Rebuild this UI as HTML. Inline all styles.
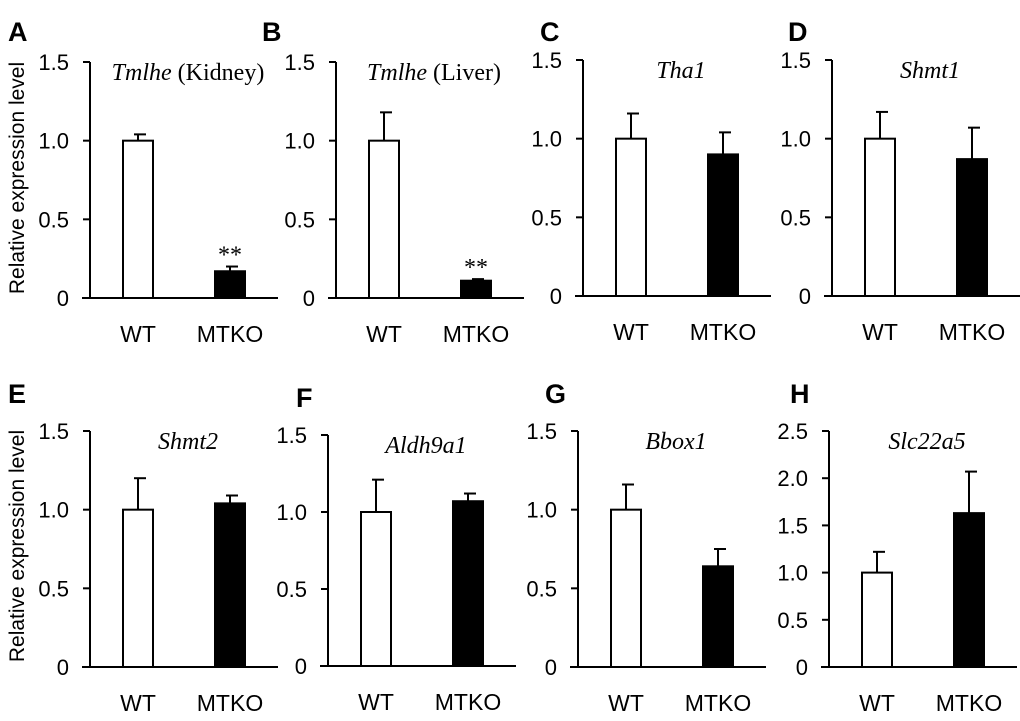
<!DOCTYPE html>
<html><head><meta charset="utf-8"><style>
html,body{margin:0;padding:0;background:#fff;}
svg{display:block;}
</style></head><body>
<svg id="fig" width="1020" height="721" xmlns="http://www.w3.org/2000/svg"></svg>
<script>
const panelLetters = ["A","B","C","D","E","F","G","H"];
const titlesItalic = ["Tmlhe","Tmlhe","Tha1","Shmt1","Shmt2","Aldh9a1","Bbox1","Slc22a5"];
const titlesPlain = [" (Kidney)"," (Liver)","","","","","",""];
const categories = ["WT","MTKO"];
const wtValues = [1.0,1.0,1.0,1.0,1.0,1.0,1.0,1.0];
const wtErrors = [0.04,0.18,0.16,0.17,0.20,0.21,0.16,0.22];
const koValues = [0.17,0.11,0.90,0.87,1.04,1.07,0.64,1.63];
const koErrors = [0.03,0.01,0.14,0.20,0.05,0.05,0.11,0.44];
const significance = ["**","**","","","","","",""];
const yMaxes = [1.5,1.5,1.5,1.5,1.5,1.5,1.5,2.5];
const tickLabelsStd = ["0","0.5","1.0","1.5"];
const tickLabelsH = ["0","0.5","1.0","1.5","2.0","2.5"];

const layout = [
 {ax:90,top:62,zero:298,letterX:8,letterY:20},
 {ax:336,top:62,zero:298,letterX:262,letterY:20},
 {ax:583,top:60,zero:296,letterX:540,letterY:20},
 {ax:832,top:60,zero:296,letterX:788,letterY:20},
 {ax:90,top:431,zero:667,letterX:8,letterY:382},
 {ax:328,top:435,zero:666,letterX:296,letterY:386},
 {ax:578,top:431,zero:667,letterX:545,letterY:382},
 {ax:829,top:431,zero:667,letterX:790,letterY:382}
];
const NS="http://www.w3.org/2000/svg";
const svg=document.getElementById('fig');
function mk(tag,attrs,parent){const e=document.createElementNS(NS,tag);for(const k in attrs)e.setAttribute(k,attrs[k]);(parent||svg).appendChild(e);return e;}

for(let i=0;i<8;i++){
  const L=layout[i];
  const g=mk('g',{});
  
  
  const yMax=yMaxes[i];
  const y=v=>L.zero-(v/yMax)*(L.zero-L.top);
  const barW=30;
  const xWT=L.ax+33, xKO=L.ax+125;
  const xEnd=L.ax+188;
  const lt=mk('text',{x:L.letterX,y:L.letterY+21,'font-family':'Liberation Sans, sans-serif','font-size':27,'font-weight':'bold',fill:'#000'},g);
  lt.textContent=panelLetters[i];
  
  
  const ya=mk('line',{x1:L.ax,y1:L.top,x2:L.ax,y2:L.zero,stroke:'#000','stroke-width':2},g);
  
  
  const xa=mk('line',{x1:L.ax-8,y1:L.zero,x2:xEnd,y2:L.zero,stroke:'#000','stroke-width':2},g);
  
  
  const ticks = yMax>2?tickLabelsH:tickLabelsStd;
  ticks.forEach((t,k)=>{
    const v=k*0.5, yy=y(v);
    mk('line',{x1:L.ax-7,y1:yy,x2:L.ax,y2:yy,stroke:'#000','stroke-width':2},g);
    const tl=mk('text',{x:L.ax-21,y:yy+8,'text-anchor':'end','font-family':'Liberation Sans, sans-serif','font-size':22,fill:'#000'},g);
    tl.textContent=t;
    
    
  });
  [[xWT,wtValues[i],wtErrors[i],'#fff'],[xKO,koValues[i],koErrors[i],'#000']].forEach((b,j)=>{
    const [bx,v,e,fill]=b;
    const top=y(v), et=y(v+e), cx=bx+barW/2;
    const el=mk('line',{x1:cx,y1:top,x2:cx,y2:et,stroke:'#000','stroke-width':2},g);
    
    
    mk('line',{x1:cx-4,y1:et,x2:cx+8,y2:et,stroke:'#000','stroke-width':2},g);
    const r=mk('rect',{x:bx,y:top,width:barW,height:L.zero-top,fill:fill,stroke:'#000','stroke-width':2},g);
    
    
    const cl=mk('text',{x:cx,y:L.zero+44,'text-anchor':'middle','font-family':'Liberation Sans, sans-serif','font-size':23,fill:'#000'},g);
    cl.textContent=categories[j];
    
    
    if(j===1 && significance[i]){
      const s=mk('text',{x:cx,y:et-4,'text-anchor':'middle','font-family':'Liberation Serif, serif','font-size':24,fill:'#000'},g);
      s.textContent=significance[i];
      
      
    }
  });
  const tt=mk('text',{x:(L.ax+xEnd)/2+4,y:L.top+18,'text-anchor':'middle','font-family':'Liberation Serif, serif','font-size':24,fill:'#000'},g);
  
  
  const ts=mk('tspan',{'font-style':'italic'},tt); ts.textContent=titlesItalic[i];
  if(titlesPlain[i]){const tp=mk('tspan',{},tt); tp.textContent=titlesPlain[i];}
}
[178,546].forEach(cy=>{
  const t=mk('text',{x:0,y:0,transform:`translate(24,${cy}) rotate(-90)`,'text-anchor':'middle','font-family':'Liberation Sans, sans-serif','font-size':21,fill:'#000'});
  t.textContent='Relative expression level';
  
  
});
</script>
</body></html>
